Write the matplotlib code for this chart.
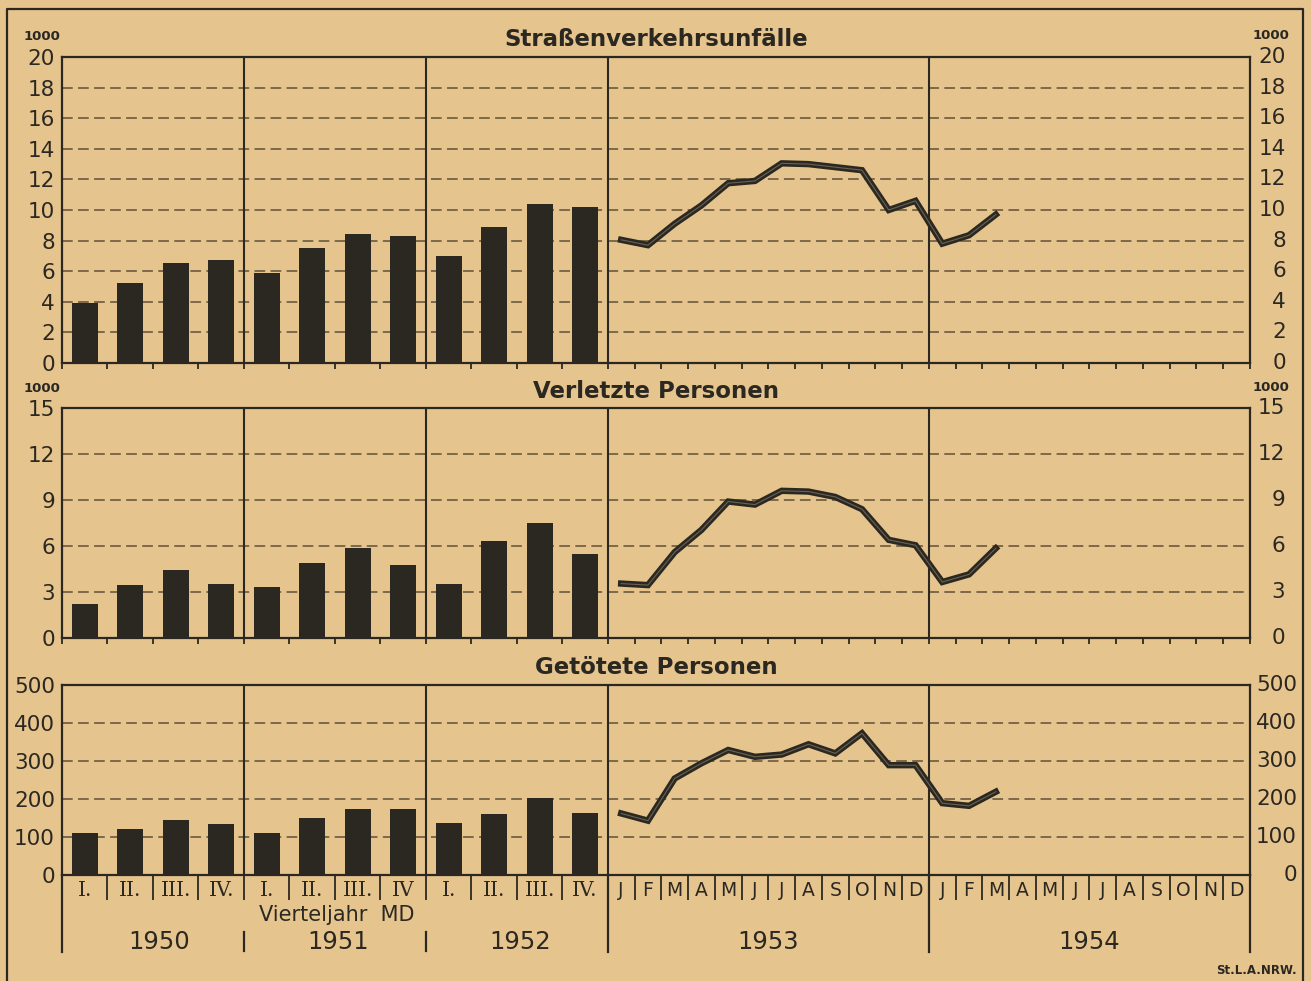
import numpy as np
import matplotlib
matplotlib.use('Agg')
import matplotlib.pyplot as plt
import matplotlib.transforms as mtransforms
from matplotlib.lines import Line2D

plt.rcParams['font.family'] = ['DejaVu Sans']

BG = '#e6c48e'
INK = '#2b2822'
GRID = '#5e5038'

# ---- data (thousands for the first two panels, persons for the third) ----
quarters = ['I.', 'II.', 'III.', 'IV.', 'I.', 'II.', 'III.', 'IV', 'I.', 'II.', 'III.', 'IV.']
months = ['J', 'F', 'M', 'A', 'M', 'J', 'J', 'A', 'S', 'O', 'N', 'D']
years = ['1950', '1951', '1952', '1953', '1954']
titles = ['Straßenverkehrsunfälle', 'Verletzte Personen', 'Getötete Personen']

unfaelle_q = [3.9, 5.25, 6.55, 6.75, 5.9, 7.5, 8.4, 8.3, 7.0, 8.9, 10.4, 10.2]
unfaelle_1953 = [8.05, 7.7, 9.1, 10.3, 11.75, 11.9, 13.05, 13.0, 12.8, 12.6, 10.0, 10.6]
unfaelle_1954 = [7.8, 8.35, 9.7]

verletzte_q = [2.25, 3.45, 4.45, 3.5, 3.35, 4.9, 5.85, 4.75, 3.55, 6.3, 7.5, 5.45]
verletzte_1953 = [3.55, 3.45, 5.6, 7.05, 8.9, 8.7, 9.6, 9.55, 9.2, 8.4, 6.4, 6.05]
verletzte_1954 = [3.65, 4.15, 5.85]

getoetete_q = [110, 122, 146, 134, 110, 150, 175, 175, 138, 161, 202, 163]
getoetete_1953 = [162, 143, 254, 294, 329, 311, 317, 344, 320, 373, 289, 289]
getoetete_1954 = [189, 182, 219]

y_ticks = [np.arange(0, 21, 2), np.arange(0, 16, 3), np.arange(0, 501, 100)]

# ---- x geometry: one unit per quarter, a monthly year is ~7 quarters wide ----
YW = 7.06
MW = YW / 12
XMAX = 12 + 2 * YW
x_q = np.arange(12) + 0.5
x_m = np.concatenate([12 + (np.arange(12) + 0.5) * MW,
                      12 + YW + (np.arange(3) + 0.5) * MW])
bounds = np.concatenate([np.arange(13),
                         12 + np.arange(1, 13) * MW,
                         12 + YW + np.arange(1, 13) * MW])
dividers = [4, 8, 12, 12 + YW]
year_centers = [2.13, 6.08, 10.08, 12 + YW / 2, 12 + 1.5 * YW]

W, H = 1311, 981
fig = plt.figure(figsize=(W / 100, H / 100), dpi=100, facecolor=BG)

# outer frame
fig.add_artist(Line2D([7 / W, 7 / W, 1303 / W, 1303 / W], [-0.01, 1 - 9 / H, 1 - 9 / H, -0.01],
                      color=INK, lw=1.6))

panels = [
    (57, 363, unfaelle_q, unfaelle_1953 + unfaelle_1954, True, 36),
    (408, 638, verletzte_q, verletzte_1953 + verletzte_1954, True, 35),
    (685, 875, getoetete_q, getoetete_1953 + getoetete_1954, False, 47),
]

axes = []
for i, (top, bottom, bars, line, thousands, rpad) in enumerate(panels):
    hpx = bottom - top
    ax = fig.add_axes([62 / W, 1 - bottom / H, 1188 / W, hpx / H])
    ax.set_facecolor(BG)
    ax.set_xlim(0, XMAX)
    yt = y_ticks[i]
    ax.set_ylim(0, yt[-1])
    ax.set_axisbelow(True)

    ax.bar(x_q, bars, width=0.57, color=INK, zorder=2)
    ax.plot(x_m, line, color=INK, lw=4.6, solid_joinstyle='miter', zorder=3)
    ax.plot(x_m, line, color='#6a6252', lw=0.8, solid_joinstyle='miter', zorder=4)

    for d in dividers:
        ax.axvline(d, color=INK, lw=1.5, zorder=1)
    for v in yt[1:-1]:
        ax.axhline(v, color=GRID, lw=1.1, dashes=(7, 3.5), zorder=0)

    for s in ax.spines.values():
        s.set_color(INK)
        s.set_linewidth(1.6)

    ax.set_yticks(yt)
    ax.set_yticklabels([str(v) for v in yt], fontsize=15.5, color=INK)
    ax.tick_params(axis='y', length=0, pad=5)

    trans = mtransforms.blended_transform_factory(ax.transAxes, ax.transData)
    for v in yt:
        ax.text(1 + rpad / 1188, v, str(v), transform=trans, ha='right', va='center',
                fontsize=15.5, color=INK)

    ax.set_xticks(bounds)
    ax.set_xticklabels([])
    ax.tick_params(axis='x', which='major', direction='out', length=4.5, width=1.3, color=INK)

    ax.text(0.5, 1 + 17 / hpx, titles[i], transform=ax.transAxes, ha='center', va='center',
            fontsize=16.5, fontweight='bold', color=INK)
    if thousands:
        ax.text(-20 / 1188, 1 + 20 / hpx, '1000', transform=ax.transAxes, ha='center',
                va='center', fontsize=9.5, fontweight='bold', color=INK)
        ax.text(1 + 21 / 1188, 1 + 21 / hpx, '1000', transform=ax.transAxes, ha='center',
                va='center', fontsize=9.5, fontweight='bold', color=INK)
    axes.append(ax)

# ---- bottom panel: period labels ----
ax = axes[2]
hpx = 190
ax.tick_params(axis='x', which='major', length=18)
ax.set_xticks(np.concatenate([x_q, x_m[:12], 12 + YW + (np.arange(12) + 0.5) * MW]), minor=True)
ax.set_xticklabels(quarters + months + months, minor=True, fontsize=13.5, color=INK)
ax.tick_params(axis='x', which='minor', length=0, pad=4)
for lbl in ax.get_xticklabels(minor=True)[:12]:
    lbl.set_fontfamily('DejaVu Serif')
    lbl.set_fontsize(14.5)

tx = mtransforms.blended_transform_factory(ax.transData, ax.transAxes)
for xv in [0, 12, 12 + YW, XMAX]:
    ax.plot([xv, xv], [0, -77 / hpx], color=INK, lw=1.6, transform=tx, clip_on=False)
for xv in [4, 8]:
    ax.plot([xv, xv], [-57 / hpx, -76 / hpx], color=INK, lw=1.6, transform=tx, clip_on=False)
for xc, yr in zip(year_centers, years):
    ax.text(xc, -67 / hpx, yr, transform=tx, ha='center', va='center', fontsize=17.5, color=INK)
ax.text(6.05, -40 / hpx, 'Vierteljahr  MD', transform=tx, ha='center', va='center',
        fontsize=15, color=INK)

fig.text(1297 / W, 1 - 971 / H, 'St.L.A.NRW.', ha='right', va='center', fontsize=8.5,
         fontweight='bold', color=INK)

fig.savefig('out.png', dpi=100, facecolor=BG)
